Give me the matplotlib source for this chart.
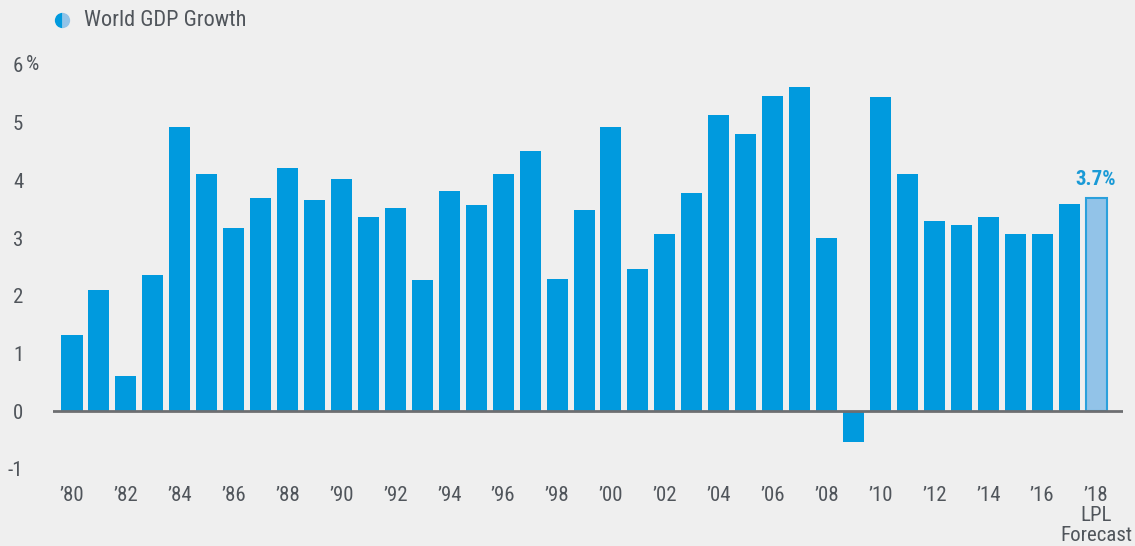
import matplotlib
matplotlib.use("Agg")
import matplotlib.pyplot as plt
from matplotlib.lines import Line2D
from matplotlib import font_manager

years = list(range(1980, 2019))
growth = [1.33, 2.10, 0.61, 2.36, 4.92, 4.12, 3.17, 3.69, 4.21, 3.66,
          4.02, 3.36, 3.52, 2.27, 3.81, 3.57, 4.11, 4.51, 2.29, 3.48,
          4.92, 2.46, 3.07, 3.78, 5.13, 4.80, 5.46, 5.62, 3.00, -0.54,
          5.44, 4.11, 3.29, 3.22, 3.36, 3.07, 3.07, 3.60, 3.70]
forecast_label = "3.7%"
yticks = [-1, 0, 1, 2, 3, 4, 5, 6]
legend_label = "World GDP Growth"

avail = {f.name for f in font_manager.fontManager.ttflist}
fam = "Roboto"
for cand in ["Roboto Condensed", "Liberation Sans Narrow", "Open Sans Condensed",
             "Noto Sans Condensed", "DejaVu Sans Condensed"]:
    if cand in avail:
        fam = cand
        break
plt.rcParams["font.family"] = [fam, "DejaVu Sans"]

BG = "#efefef"
BLUE = "#009ade"
LIGHT = "#92c3e8"
TXT = "#50555b"

W, H = 1135, 546
fig = plt.figure(figsize=(W / 100, H / 100), dpi=100, facecolor=BG)
ax_bottom_px = 478
ax_top_px = 48
ax = fig.add_axes([53 / W, 1 - ax_bottom_px / H, 1070 / W, (ax_bottom_px - ax_top_px) / H])
ax.set_facecolor(BG)

n = len(years)
xs = list(range(n))
colors = [BLUE] * (n - 1) + [LIGHT]
edges = [BLUE] * (n - 1) + ["#2aa0dc"]
lws = [0] * (n - 1) + [1.5]
ax.bar(xs, growth, width=0.78, color=colors, edgecolor=edges, linewidth=lws, zorder=2)
ax.axhline(0, color="#6d6e71", lw=2, zorder=3)

ax.set_xlim(-0.705, 39.0)
ppu = (469 - 65) / 7
ax.set_ylim(-1 - (ax_bottom_px - 469) / ppu, 6 + (65 - ax_top_px) / ppu)

for s in ax.spines.values():
    s.set_visible(False)

ax.set_yticks(yticks)
ax.set_yticklabels([str(v) for v in yticks])
ax.tick_params(axis="y", length=0, pad=21.5, labelsize=15, labelcolor=TXT)
for lbl in ax.get_yticklabels():
    lbl.set_horizontalalignment("right")
ax.text(26 / W, 1 - 65 / H, "%", transform=fig.transFigure, fontsize=15,
        color=TXT, va="center", ha="left")

tick_pos = xs[::2]
tick_lbls = ["\u2019" + str(years[i])[2:] for i in tick_pos]
tick_lbls[-1] = tick_lbls[-1] + "\nLPL\nForecast"
ax.set_xticks(tick_pos)
ax.set_xticklabels(tick_lbls, linespacing=1.05)
ax.tick_params(axis="x", length=0, pad=6, labelsize=15, labelcolor=TXT)

ax.text(xs[-1], growth[-1] + 0.15, forecast_label, ha="center", va="bottom",
        fontsize=15, fontweight="bold", color="#1a9ad6")

fig.add_artist(Line2D([62 / W], [1 - 20 / H], marker="o", markersize=11,
                      fillstyle="left", markerfacecolor=BLUE,
                      markerfacecoloralt=LIGHT, markeredgewidth=0,
                      transform=fig.transFigure, linestyle="none"))
fig.text(84 / W, 1 - 20 / H, legend_label, fontsize=16, color=TXT,
         va="center", ha="left")

fig.savefig("out.png", dpi=100, facecolor=BG)
